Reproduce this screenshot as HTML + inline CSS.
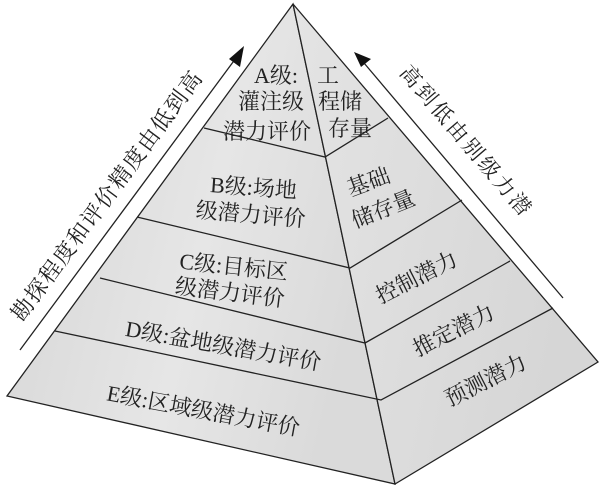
<!DOCTYPE html>
<html><head><meta charset="utf-8"><style>
html,body{margin:0;padding:0;background:#fff;}
svg{display:block;}
text{font-family:"Liberation Serif","Noto Serif CJK SC","Noto Sans CJK SC",serif;fill:#222;}
</style></head><body>
<svg width="603" height="498" viewBox="0 0 603 498" xmlns="http://www.w3.org/2000/svg">
<defs>
<linearGradient id="gl" x1="0" y1="0" x2="1" y2="0.3">
<stop offset="0" stop-color="#d4d4d4"/><stop offset="0.6" stop-color="#e6e6e6"/><stop offset="1" stop-color="#dadada"/></linearGradient>
<linearGradient id="gr" x1="0" y1="0" x2="1" y2="0.3">
<stop offset="0" stop-color="#e4e4e4"/><stop offset="1" stop-color="#d6d6d6"/></linearGradient>
</defs>
<rect width="603" height="498" fill="#fff"/>
<polygon points="293,4 7,396 395,484" fill="url(#gl)" stroke="#222" stroke-width="1.3"/>
<polygon points="293,4 395,484 598,362" fill="url(#gr)" stroke="#222" stroke-width="1.3"/>
<g stroke="#222" stroke-width="1.3" fill="none">
<polyline points="204,128 325,157 388,118"/>
<polyline points="137,217 350,268 462,200"/>
<polyline points="100,278 365,343 510,261"/>
<polyline points="55,331 381,400 553,308"/>
<line x1="20" y1="350" x2="236" y2="58"/>
<line x1="563" y1="298" x2="364" y2="63"/>
</g>
<polygon points="244,46 240,67 229,59" fill="#111"/>
<polygon points="354,52 371,59 361,67" fill="#111"/>
<g font-size="22" text-anchor="middle">
<text transform="translate(113,200) rotate(-53.5)" letter-spacing="1.5">勘探程度和评价精度由低到高</text>
<text transform="translate(461,146) rotate(49.5)" font-size="21" letter-spacing="3">高到低由别级力潜</text>
<text x="276" y="83">A级:</text>
<text x="271" y="109">灌注级</text>
<text x="267" y="139">潜力评价</text>
<text x="328" y="83">工</text>
<text x="340" y="109">程储</text>
<text x="350" y="136">存量</text>
<text transform="translate(253,195) rotate(4)">B级:场地</text>
<text transform="translate(250,222) rotate(5)">级潜力评价</text>
<text transform="translate(371,189) rotate(-20)">基础</text>
<text transform="translate(386,216) rotate(-22)">储存量</text>
<text transform="translate(233,274) rotate(6)">C级:目标区</text>
<text transform="translate(229,300) rotate(7)">级潜力评价</text>
<text transform="translate(420,284) rotate(-27)">控制潜力</text>
<text transform="translate(222,353) rotate(10)">D级:盆地级潜力评价</text>
<text transform="translate(457,337) rotate(-27)">推定潜力</text>
<text transform="translate(202,418) rotate(10.5)">E级:区域级潜力评价</text>
<text transform="translate(489,387) rotate(-27)">预测潜力</text>
</g>
</svg>
</body></html>
